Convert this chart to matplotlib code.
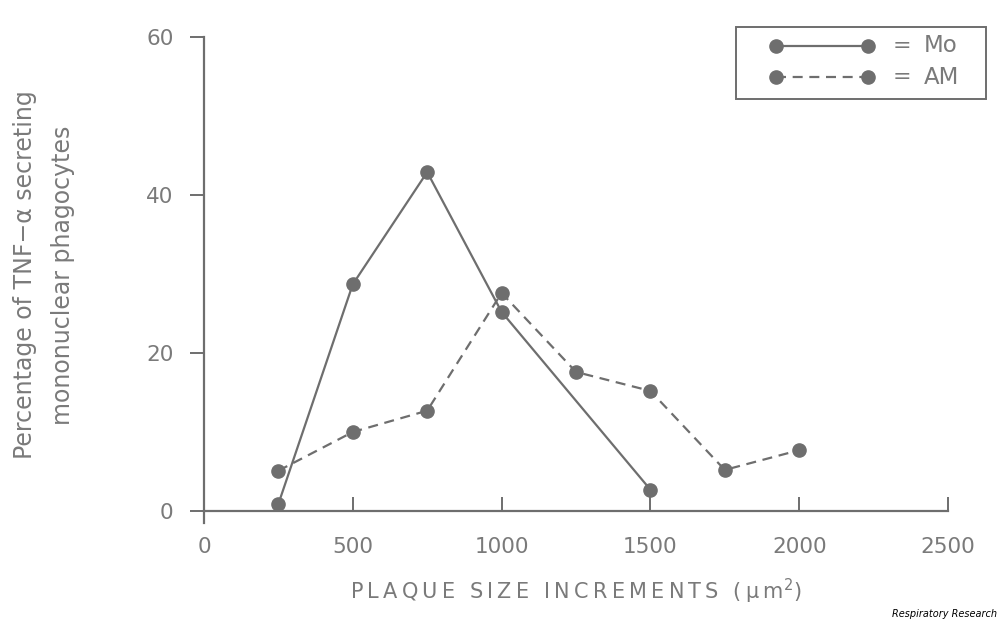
import matplotlib
matplotlib.use("Agg")
import matplotlib.pyplot as plt
from matplotlib.lines import Line2D
from matplotlib.patches import Rectangle

# Data
mo_x = [250, 500, 750, 1000, 1500]
mo_y = [0.9, 28.7, 42.9, 25.2, 2.7]
am_x = [250, 500, 750, 1000, 1250, 1500, 1750, 2000]
am_y = [5.1, 10.0, 12.7, 27.6, 17.6, 15.2, 5.2, 7.7]
x_ticks = [0, 500, 1000, 1500, 2000, 2500]
y_ticks = [0, 20, 40, 60]
series_labels = ['Mo', 'AM']

GRAY = "#6e6e6e"
TXT = "#7a7a7a"
plt.rcParams['font.family'] = ['DejaVu Sans']
TS = '\u2009'  # thin space for letter spacing


def spaced(s):
    return TS.join(s)


fig = plt.figure(figsize=(10, 6.25), dpi=100)
ax = fig.add_axes([0.204, 0.1824, 0.744, 0.7584])

DASH = (0, (4.5, 3))
ax.plot(mo_x, mo_y, color=GRAY, lw=1.6, marker='o', ms=9.5,
        mfc=GRAY, mec=GRAY, clip_on=False)
ax.plot(am_x, am_y, color=GRAY, lw=1.6, ls=DASH, marker='o', ms=9.5,
        mfc=GRAY, mec=GRAY, clip_on=False)

ax.set_xlim(0, 2500)
ax.set_ylim(0, 60)
ax.set_xticks(x_ticks)
ax.set_yticks(y_ticks)
for s in ['top', 'right']:
    ax.spines[s].set_visible(False)
for s in ['left', 'bottom']:
    ax.spines[s].set_color(GRAY)
    ax.spines[s].set_linewidth(1.6)
ax.spines['left'].set_bounds(-1.5, 60)

ax.tick_params(axis='x', direction='in', length=10, width=1.4, color=GRAY,
               labelcolor=TXT, labelsize=15.5, pad=19)
ax.tick_params(axis='y', direction='out', length=10, width=1.4, color=GRAY,
               labelcolor=TXT, labelsize=15.5, pad=12)

ax.set_xlabel(spaced('PLAQUE SIZE INCREMENTS (μm') + '$^2$)', color=TXT,
              fontsize=15, labelpad=14)
fig.text(0.044, 0.56, 'Percentage of TNF−α secreting\nmononuclear phagocytes',
         rotation=90, ha='center', va='center', color=TXT, fontsize=17,
         linespacing=1.75, multialignment='center')

# Legend box (drawn in figure coordinates)
fig.add_artist(Rectangle((0.736, 1 - 99 / 625), 0.25, 72 / 625,
                         transform=fig.transFigure, fill=False,
                         edgecolor=GRAY, lw=1.4))
for i, (lab, ls) in enumerate(zip(series_labels, ['-', DASH])):
    yy = 1 - (46 + 31 * i) / 625
    fig.add_artist(Line2D([0.776, 0.868], [yy, yy], transform=fig.transFigure,
                          color=GRAY, lw=1.6, ls=ls, marker='o', ms=9.5,
                          mfc=GRAY, mec=GRAY))
    fig.text(0.893, yy, '=', ha='left', va='center', color=TXT, fontsize=16)
    fig.text(0.924, yy, lab, ha='left', va='center', color=TXT, fontsize=16.5)

fig.text(0.997, 0.01, 'Respiratory Research', ha='right', va='bottom',
         fontsize=7, style='italic', color='black')

fig.savefig('out.png', dpi=100)
